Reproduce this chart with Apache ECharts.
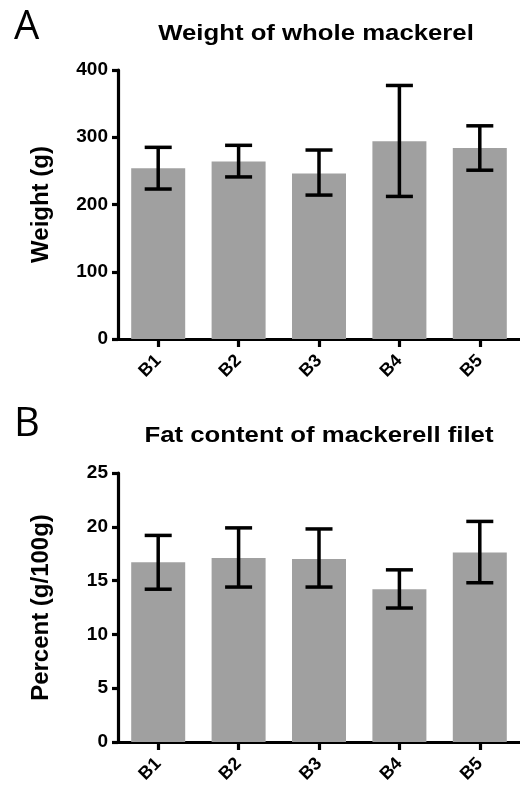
<!DOCTYPE html>
<html>
<head>
<meta charset="utf-8">
<script src="https://cdn.jsdelivr.net/npm/echarts@6/dist/echarts.min.js"></script>
<style>html,body{margin:0;padding:0;background:#fff}#c{width:520px;height:787px}</style>
</head>
<body>
<div id="c"></div>
<script>
const categories = ['B1', 'B2', 'B3', 'B4', 'B5'];
const weightMean = [254, 264, 246, 294, 284];
const weightLow  = [223, 241, 214, 212, 251];
const weightHigh = [285, 288, 281, 377, 317];
const fatMean = [16.7, 17.1, 17.0, 14.2, 17.6];
const fatLow  = [14.2, 14.4, 14.4, 12.45, 14.8];
const fatHigh = [19.2, 19.9, 19.8, 16.0, 20.5];
const weightTicks = {min: 0, max: 400, interval: 100};
const fatTicks = {min: 0, max: 25, interval: 5};

const FONT = '"Liberation Sans", Arial, sans-serif';
const chart = echarts.init(document.getElementById('c'), null, {renderer: 'canvas'});

function errData(lo, hi) { return lo.map((v, i) => [i, v, hi[i]]); }
function renderErr(params, api) {
  const x = api.value(0);
  const lo = api.coord([x, api.value(1)]);
  const hi = api.coord([x, api.value(2)]);
  const hw = api.size([1, 0])[0] * 0.168;
  const st = {stroke: '#000', lineWidth: 3.5};
  return {type: 'group', children: [
    {type: 'line', shape: {x1: lo[0], y1: lo[1], x2: hi[0], y2: hi[1]}, style: st},
    {type: 'line', shape: {x1: lo[0] - hw, y1: lo[1], x2: lo[0] + hw, y2: lo[1]}, style: st},
    {type: 'line', shape: {x1: hi[0] - hw, y1: hi[1], x2: hi[0] + hw, y2: hi[1]}, style: st}
  ]};
}
const axisLine = {show: true, lineStyle: {color: '#000', width: 3.2}};
function xAx(gi) {
  return {type: 'category', gridIndex: gi, data: categories, boundaryGap: true,
    axisLine: axisLine,
    axisTick: {show: true, alignWithLabel: true, length: 8, lineStyle: {color: '#000', width: 3.2}},
    axisLabel: {rotate: 45, color: '#000', fontWeight: 'bold', fontSize: 18, fontFamily: FONT, margin: 19}};
}
function yAx(gi, t, name) {
  return {type: 'value', gridIndex: gi, min: t.min, max: t.max, interval: t.interval,
    name: name, nameLocation: 'middle', nameGap: 65,
    nameTextStyle: {color: '#000', fontWeight: 'bold', fontSize: 24, fontFamily: FONT},
    axisLine: axisLine, splitLine: {show: false},
    axisTick: {show: true, length: 6, lineStyle: {color: '#000', width: 3.2}},
    axisLabel: {color: '#000', fontWeight: 'bold', fontSize: 19, fontFamily: FONT, margin: 10}};
}
function txt(text, x, y, font, align, sx) {
  return {type: 'text', x: x, y: y, scaleX: sx || 1, style: {text: text, font: font, fill: '#000',
    textAlign: align || 'center', textVerticalAlign: 'middle'}};
}

chart.setOption({
  animation: false,
  backgroundColor: '#fff',
  grid: [
    {left: 118, top: 70, width: 404, height: 269},
    {left: 118, top: 473, width: 404, height: 269}
  ],
  xAxis: [xAx(0), xAx(1)],
  yAxis: [yAx(0, weightTicks, 'Weight (g)'), yAx(1, fatTicks, 'Percent (g/100g)')],
  graphic: [
    txt('A', 14, 28, 'normal 40px "Open Sans", sans-serif', 'left'),
    txt('B', 14, 425, 'normal 40px "Open Sans", sans-serif', 'left'),
    txt('Weight of whole mackerel', 316, 34, 'bold 22px ' + FONT, 'center', 1.17),
    txt('Fat content of mackerell filet', 319, 436, 'bold 22px ' + FONT, 'center', 1.17)
  ],
  series: [
    {type: 'bar', xAxisIndex: 0, yAxisIndex: 0, data: weightMean, barWidth: 54,
      itemStyle: {color: '#a0a0a0'}, silent: true},
    {type: 'custom', xAxisIndex: 0, yAxisIndex: 0, data: errData(weightLow, weightHigh),
      renderItem: renderErr, encode: {x: 0, y: [1, 2]}, z: 5, silent: true},
    {type: 'bar', xAxisIndex: 1, yAxisIndex: 1, data: fatMean, barWidth: 54,
      itemStyle: {color: '#a0a0a0'}, silent: true},
    {type: 'custom', xAxisIndex: 1, yAxisIndex: 1, data: errData(fatLow, fatHigh),
      renderItem: renderErr, encode: {x: 0, y: [1, 2]}, z: 5, silent: true}
  ]
});
</script>
</body>
</html>
